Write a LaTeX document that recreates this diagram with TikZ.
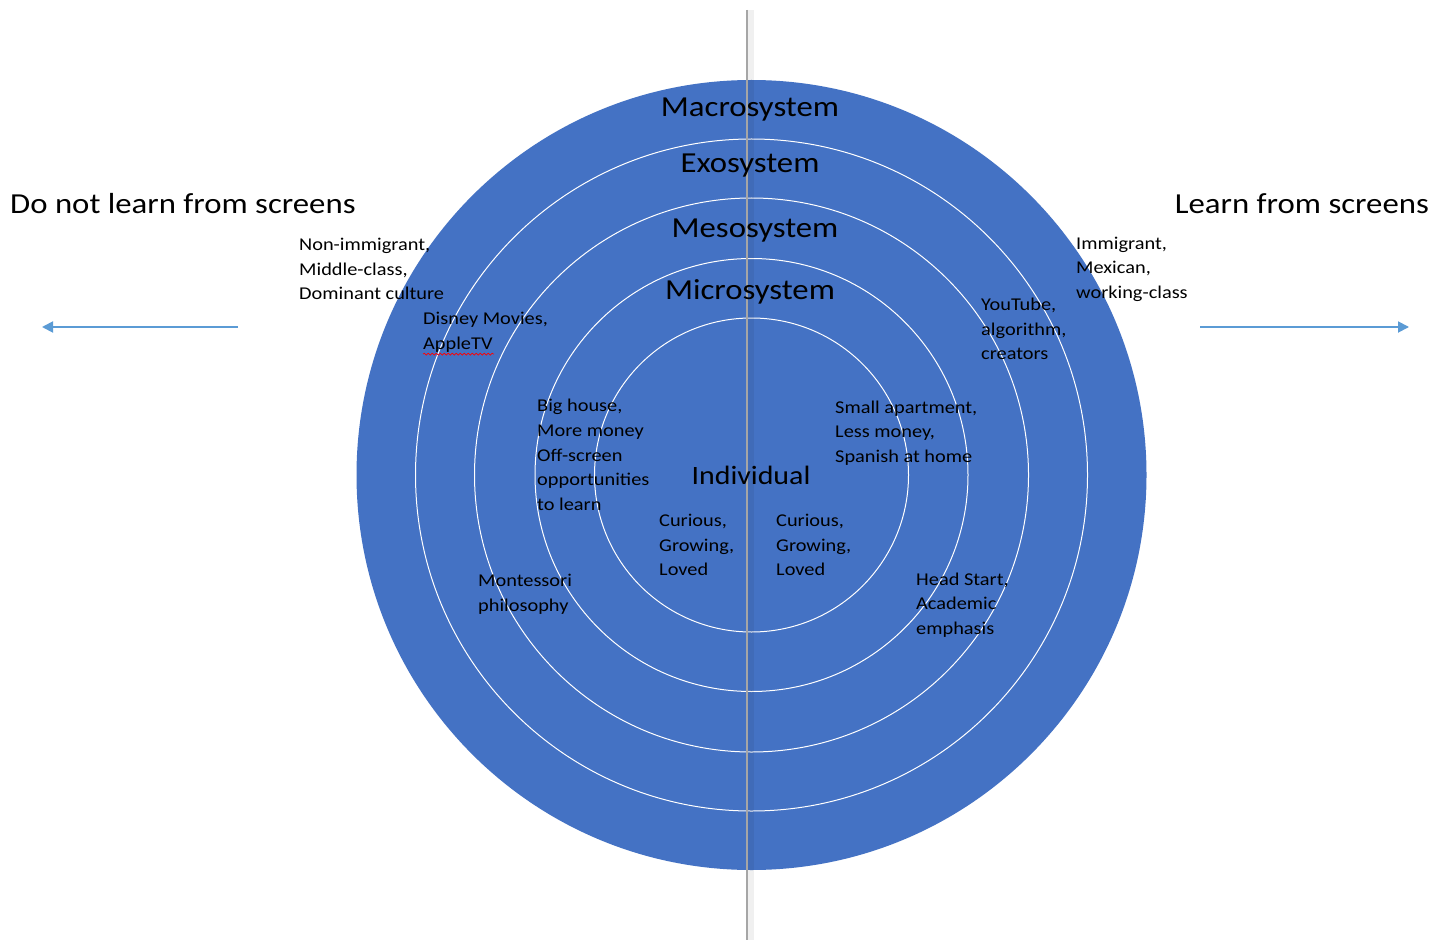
\documentclass[tikz,border=0pt]{standalone}
\usepackage{fontspec}
\setmainfont[FakeStretch=1.13]{Carlito}
\usetikzlibrary{arrows.meta,decorations.pathmorphing}
\definecolor{ringblue}{HTML}{4472C4}
\definecolor{arrowblue}{HTML}{5B9BD5}
\definecolor{axisgray}{HTML}{A6A6A6}
\tikzset{
  ring/.style={draw=white, line width=1pt},
  big/.style={font=\fontsize{29}{34}\selectfont, inner sep=0pt},
  lab/.style={font=\fontsize{18}{24.6}\selectfont, align=left, anchor=west, inner sep=0pt},
  sidearrow/.style={draw=arrowblue, line width=1.8pt, -{Triangle[length=11pt,width=11pt]}},
  spell/.style={draw=red, line width=0.7pt, decorate, decoration={snake, amplitude=0.9pt, segment length=4pt}}
}
\begin{document}
\begin{tikzpicture}[x=1pt,y=-1pt]
\useasboundingbox (0,0) rectangle (1447,941);
\fill[white] (0,0) rectangle (1447,941);
% rings
\coordinate (c) at (751.5,475);
\fill[ringblue] (c) circle[radius=395];
\draw[ring] (c) circle[radius=336];
\draw[ring] (c) circle[radius=277];
\draw[ring] (c) circle[radius=216.5];
\draw[ring] (c) circle[radius=157];
% vertical axis with shadow
\coordinate (vtop) at (747,10);
\coordinate (vbot) at (747,940);
\draw[black, opacity=0.06, line width=6pt] ([xshift=3.5pt]vtop) -- ([xshift=3.5pt]vbot);
\draw[axisgray, line width=2.6pt] (vtop) -- (vbot);
% ring labels
\node[big] (macro) at (750,110) {Macrosystem};
\node[big] (exo) at (750,166) {Exosystem};
\node[big] (meso) at (755,231) {Mesosystem};
\node[big] (micro) at (750,292) {Microsystem};
\node[big, font=\fontsize{26.5}{32}\selectfont] (indiv) at (751,475) {Individual};
% titles
\node[big, anchor=west] (tl) at (10,204) {Do not learn from screens};
\node[big, anchor=east] (tr) at (1429,204) {Learn from screens};
% arrows
\coordinate (la1) at (238,327);
\coordinate (la2) at (42,327);
\coordinate (ra1) at (1200,327);
\coordinate (ra2) at (1409,327);
\draw[sidearrow] (la1) -- (la2);
\draw[sidearrow] (ra1) -- (ra2);
% left labels
\node[lab] (nonimm) at (299,269) {Non-immigrant,\\Middle-class,\\Dominant culture};
\node[lab] (disney) at (423,332) {Disney Movies,\\AppleTV};
\draw[spell] ([yshift=-2pt]disney.south west) -- ++(71,0);
\node[lab] (bighouse) at (537,455) {Big house,\\More money\\Off-screen\\opportunities\\to learn};
\node[lab] (curl) at (659,545) {Curious,\\Growing,\\Loved};
\node[lab] (mont) at (478,594) {Montessori\\philosophy};
% right labels
\node[lab] (imm) at (1076,269) {Immigrant,\\Mexican,\\working-class};
\node[lab] (yt) at (981,329) {YouTube,\\algorithm,\\creators};
\node[lab] (small) at (835,433) {Small apartment,\\Less money,\\Spanish at home};
\node[lab] (curr) at (776,545) {Curious,\\Growing,\\Loved};
\node[lab] (head) at (916,605) {Head Start,\\Academic\\emphasis};
\end{tikzpicture}
\end{document}
